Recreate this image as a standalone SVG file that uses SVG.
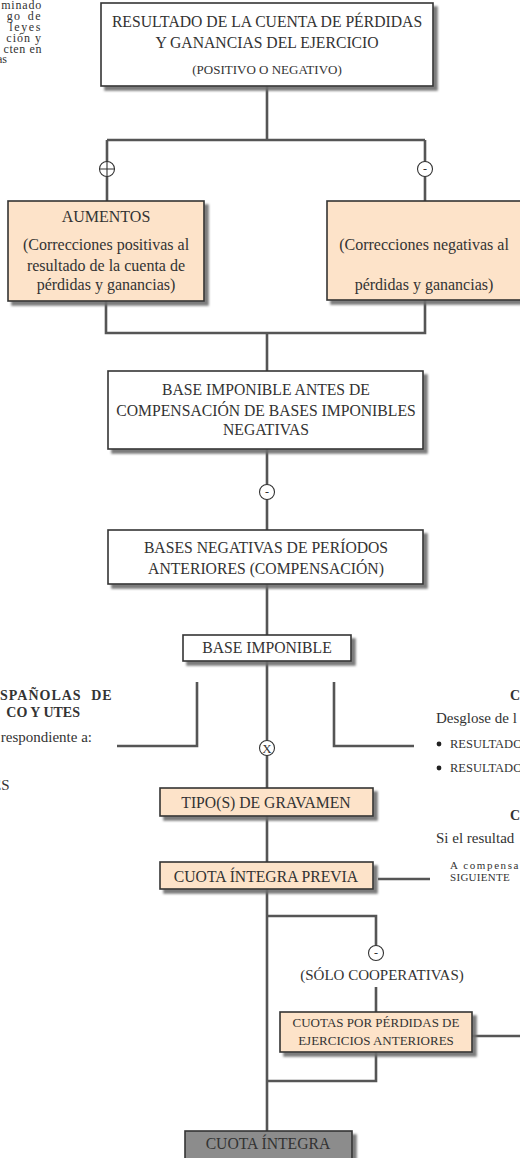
<svg xmlns="http://www.w3.org/2000/svg" width="520" height="1158" viewBox="0 0 520 1158">
<defs>
<filter id="sh" x="-10%" y="-10%" width="130%" height="140%">
<feDropShadow dx="4" dy="4" stdDeviation="1.3" flood-color="#6e6e6e" flood-opacity="0.9"/>
</filter>
<style>
text{font-family:"Liberation Serif","Times New Roman",serif;fill:#333;}
.box{fill:#fff;stroke:#333;stroke-width:1.6;filter:url(#sh);}
.peach{fill:#fde3c9;stroke:#333;stroke-width:1.6;filter:url(#sh);}
.grey{fill:#8c8c8c;stroke:#333;stroke-width:1.6;filter:url(#sh);}
.ln{fill:none;stroke:#555;stroke-width:2.6;}
.circ{fill:#fff;stroke:#333;stroke-width:1.1;}
.t{font-size:15.7px;text-anchor:middle;}
.tl{font-size:16px;text-anchor:middle;}
.ts{font-size:13px;text-anchor:middle;}
.side{font-size:15px;}
.para{font-size:12px;}
.b{font-weight:bold;font-size:14px;}
</style>
</defs>
<rect width="520" height="1158" fill="#fff"/>

<g id="connectors">
<path class="ln" d="M267 86V140M107 140H425M107 140V201M425 140V201"/>
<path class="ln" d="M106 301V333H425V300M267 333V371"/>
<path class="ln" d="M267 449V530M267 584V635M267 661V788M267 816V862M267 889V1131"/>
<path class="ln" d="M197 682V746H117M334 682V746H414"/>
<path class="ln" d="M378 879H430"/>
<path class="ln" d="M267 916H376V946M376 987V1012M376 1052V1081H267M472 1036H520"/>
</g>

<g id="signs">
<circle class="circ" cx="107" cy="169" r="7.5"/>
<path d="M99.5 169H114.5M107 161.5V176.5" stroke="#333" stroke-width="1.1"/>
<circle class="circ" cx="425" cy="169" r="7.5"/>
<text x="425" y="173" font-size="12" text-anchor="middle">-</text>
<circle class="circ" cx="267" cy="492" r="7.5"/>
<text x="267" y="496" font-size="12" text-anchor="middle">-</text>
<circle class="circ" cx="267" cy="748" r="7.5"/>
<text x="267" y="753" font-size="13" text-anchor="middle">X</text>
<circle class="circ" cx="376" cy="953" r="7.5"/>
<text x="376" y="957" font-size="12" text-anchor="middle">-</text>
</g>

<g id="n-resultado">
<rect class="box" x="101" y="3" width="332" height="83"/>
<text class="t" x="267" y="27">RESULTADO DE LA CUENTA DE PÉRDIDAS</text>
<text class="t" x="267" y="48">Y GANANCIAS DEL EJERCICIO</text>
<text class="ts" x="267" y="74">(POSITIVO O NEGATIVO)</text>
</g>

<g id="n-aumentos">
<rect class="peach" x="8" y="201" width="196" height="100"/>
<text class="tl" x="106" y="222">AUMENTOS</text>
<text class="tl" x="106" y="250">(Correcciones positivas al</text>
<text class="tl" x="106" y="271">resultado de la cuenta de</text>
<text class="tl" x="106" y="290">pérdidas y ganancias)</text>
</g>

<g id="n-disminuciones">
<rect class="peach" x="327" y="201" width="196" height="99"/>
<text class="tl" x="424" y="250">(Correcciones negativas al</text>
<text class="tl" x="424" y="290">pérdidas y ganancias)</text>
</g>

<g id="n-base-antes">
<rect class="box" x="108" y="371" width="315" height="78"/>
<text class="t" x="266" y="395">BASE IMPONIBLE ANTES DE</text>
<text class="t" x="266" y="416">COMPENSACIÓN DE BASES IMPONIBLES</text>
<text class="t" x="266" y="435">NEGATIVAS</text>
</g>

<g id="n-bases-negativas">
<rect class="box" x="108" y="530" width="315" height="54"/>
<text class="t" x="266" y="553">BASES NEGATIVAS DE PERÍODOS</text>
<text class="t" x="266" y="574">ANTERIORES (COMPENSACIÓN)</text>
</g>

<g id="n-base-imponible">
<rect class="box" x="183" y="635" width="168" height="26"/>
<text class="t" x="267" y="653">BASE IMPONIBLE</text>
</g>

<g id="n-tipo">
<rect class="peach" x="160" y="788" width="213" height="28"/>
<text class="t" x="266" y="808">TIPO(S) DE GRAVAMEN</text>
</g>

<g id="n-cuota-previa">
<rect class="peach" x="160" y="862" width="213" height="27"/>
<text class="t" x="266" y="882">CUOTA ÍNTEGRA PREVIA</text>
</g>

<g id="n-cooperativas">
<text x="382" y="980" font-size="15" text-anchor="middle">(SÓLO COOPERATIVAS)</text>
</g>

<g id="n-cuotas-perdidas">
<rect class="peach" x="280" y="1012" width="192" height="40"/>
<text class="ts" x="376" y="1027">CUOTAS POR PÉRDIDAS DE</text>
<text class="ts" x="376" y="1045">EJERCICIOS ANTERIORES</text>
</g>

<g id="n-cuota-integra">
<rect class="grey" x="185" y="1131" width="167" height="30"/>
<text class="t" x="268" y="1149">CUOTA ÍNTEGRA</text>
</g>

<g id="left-notes">
<text class="para" x="42" y="9" text-anchor="end" letter-spacing="0.8">minado</text>
<text class="para" x="42" y="20" text-anchor="end" letter-spacing="1.4" word-spacing="2">go de</text>
<text class="para" x="42" y="31" text-anchor="end" letter-spacing="1.6">leyes</text>
<text class="para" x="42" y="42" text-anchor="end" letter-spacing="1">ción y</text>
<text class="para" x="42" y="53" text-anchor="end" letter-spacing="0.6">cten en</text>
<text class="para" x="-3" y="63">as</text>
<text class="b" x="0" y="700" letter-spacing="1" word-spacing="5">SPAÑOLAS DE</text>
<text class="b" x="80" y="717" text-anchor="end">CO Y UTES</text>
<text class="side" x="92" y="742" text-anchor="end">respondiente a:</text>
<text class="side" x="-8" y="790">ES</text>
</g>

<g id="right-notes">
<text class="b" x="510" y="700">C</text>
<text class="side" x="436" y="723">Desglose de l</text>
<circle cx="439" cy="744" r="2.4" fill="#222"/>
<text x="450" y="748" font-size="12.5">RESULTADO</text>
<circle cx="439" cy="768" r="2.4" fill="#222"/>
<text x="450" y="772" font-size="12.5">RESULTADO</text>
<text class="b" x="510" y="820">C</text>
<text class="side" x="436" y="843">Si el resultad</text>
<text x="450" y="869" font-size="11" letter-spacing="1.6">A compensa</text>
<text x="450" y="881" font-size="11" letter-spacing="0.3">SIGUIENTE</text>
</g>
</svg>
